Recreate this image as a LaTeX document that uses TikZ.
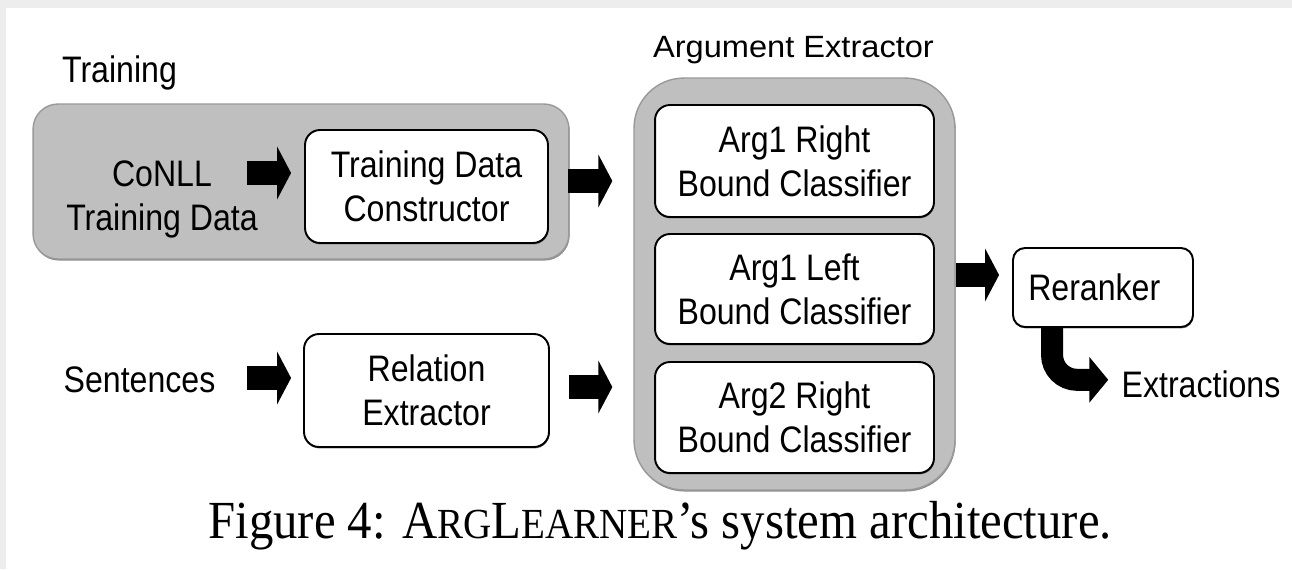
\documentclass[tikz,border=0pt]{standalone}
\usepackage{fontspec}
\setmainfont{Liberation Sans}
\newfontfamily\boxfont[FakeStretch=0.87]{Liberation Sans}
\newfontfamily\headfont[FakeStretch=1.06]{Liberation Sans}
\newfontfamily\capfont[FakeStretch=0.91]{Liberation Serif}
\usetikzlibrary{arrows.meta,shadows}

\begin{document}
\begin{tikzpicture}[x=0.02cm,y=-0.02cm,
  txt/.style={font=\boxfont\fontsize{21}{25}\selectfont, align=center, inner sep=0pt},
  container/.style={draw=black!40, line width=0.8pt, fill=black!25, inner sep=0pt,
    drop shadow={shadow xshift=0.4pt, shadow yshift=-0.9pt, fill=black!45, opacity=1}},
  module/.style={draw=black, line width=1.1pt, fill=white, rounded corners=0.3cm,
    inner sep=0pt, align=center, font=\boxfont\fontsize{21}{25}\selectfont,
    drop shadow={shadow xshift=0.3pt, shadow yshift=-0.8pt, fill=black!55, opacity=1}},
  blockarrow/.style={line width=14.2pt, -{Triangle[length=8pt,width=30pt]}},
  bendarrow/.style={line width=12.5pt, rounded corners=0.5cm,
    -{Triangle[length=10.8pt,width=25.5pt]}}
]
% page with a faint grey rim at the top and left
\useasboundingbox (0,0) rectangle (1292,569);
\fill[black!7] (0,0) rectangle (1292,569);
\fill[white] (6,8) rectangle (1292,569);

% training stage
\node[container, rounded corners=0.5cm, minimum width=10.72cm, minimum height=3.1cm]
  (trainbg) at (301,181.5) {};
\node[txt, anchor=base] (trainlbl) at (119.5,82) {Training};
\node[txt] (conll) at (162,199) {CoNLL\\Training Data};
\node[module, minimum width=4.86cm, minimum height=2.26cm]
  (tdc) at (426.5,186.5) {Training Data\\Constructor};

% extraction input
\node[txt, anchor=base] (sent) at (139.5,392) {Sentences};
\node[module, minimum width=4.9cm, minimum height=2.26cm]
  (re) at (426.5,390.5) {Relation\\Extractor};

% argument extractor with its three classifiers
\node[container, rounded corners=1cm, minimum width=6.42cm, minimum height=8.24cm]
  (aebg) at (794.5,284) {};
\node[font=\headfont\fontsize{17.5}{21}\selectfont, inner sep=0pt, anchor=base]
  (aelbl) at (793.5,57) {Argument Extractor};
\node[module, minimum width=5.58cm, minimum height=2.24cm]
  (a1r) at (794.5,161) {Arg1 Right\\Bound Classifier};
\node[module, minimum width=5.58cm, minimum height=2.2cm]
  (a1l) at (794.5,289) {Arg1 Left\\Bound Classifier};
\node[module, minimum width=5.58cm, minimum height=2.22cm]
  (a2r) at (794.5,417.5) {Arg2 Right\\Bound Classifier};

% reranking and output
\node[module, rounded corners=0.24cm, minimum width=3.6cm, minimum height=1.58cm]
  (rr) at (1103,287.5) {Reranker\hspace*{0.35cm}};
\node[txt, anchor=base] (extr) at (1201,397) {Extractions};

% connectors
\coordinate (c1) at (247,173);
\coordinate (c3) at (247,378);
\draw[blockarrow, shorten >=0.26cm] (c1) -- (c1 -| tdc.west);
\draw[blockarrow, shorten <=0.38cm, shorten >=0.42cm]
  ([yshift=0.11cm]tdc.east) -- ([yshift=0.11cm]tdc.east -| aebg.west);
\draw[blockarrow, shorten >=0.24cm] (c3) -- (c3 -| re.west);
\draw[blockarrow, shorten <=0.38cm, shorten >=0.42cm]
  ([yshift=0.07cm]re.east) -- ([yshift=0.07cm]re.east -| aebg.west);
\draw[blockarrow, shorten >=0.26cm]
  ([yshift=0.18cm]aebg.east) -- ([yshift=0.18cm]aebg.east -| rr.west);
\draw[bendarrow, shorten >=0.26cm]
  ([xshift=-1.02cm]rr.south) |- ([yshift=0.08cm]extr.west);

% caption
\node[font=\capfont\fontsize{30.5}{36}\selectfont, inner sep=0pt, anchor=base west]
  (cap) at (208,538) {Figure 4: A{\fontsize{24.4}{30}\selectfont RG}L{\fontsize{24.4}{30}\selectfont EARNER}’s system architecture.};
\end{tikzpicture}
\end{document}
